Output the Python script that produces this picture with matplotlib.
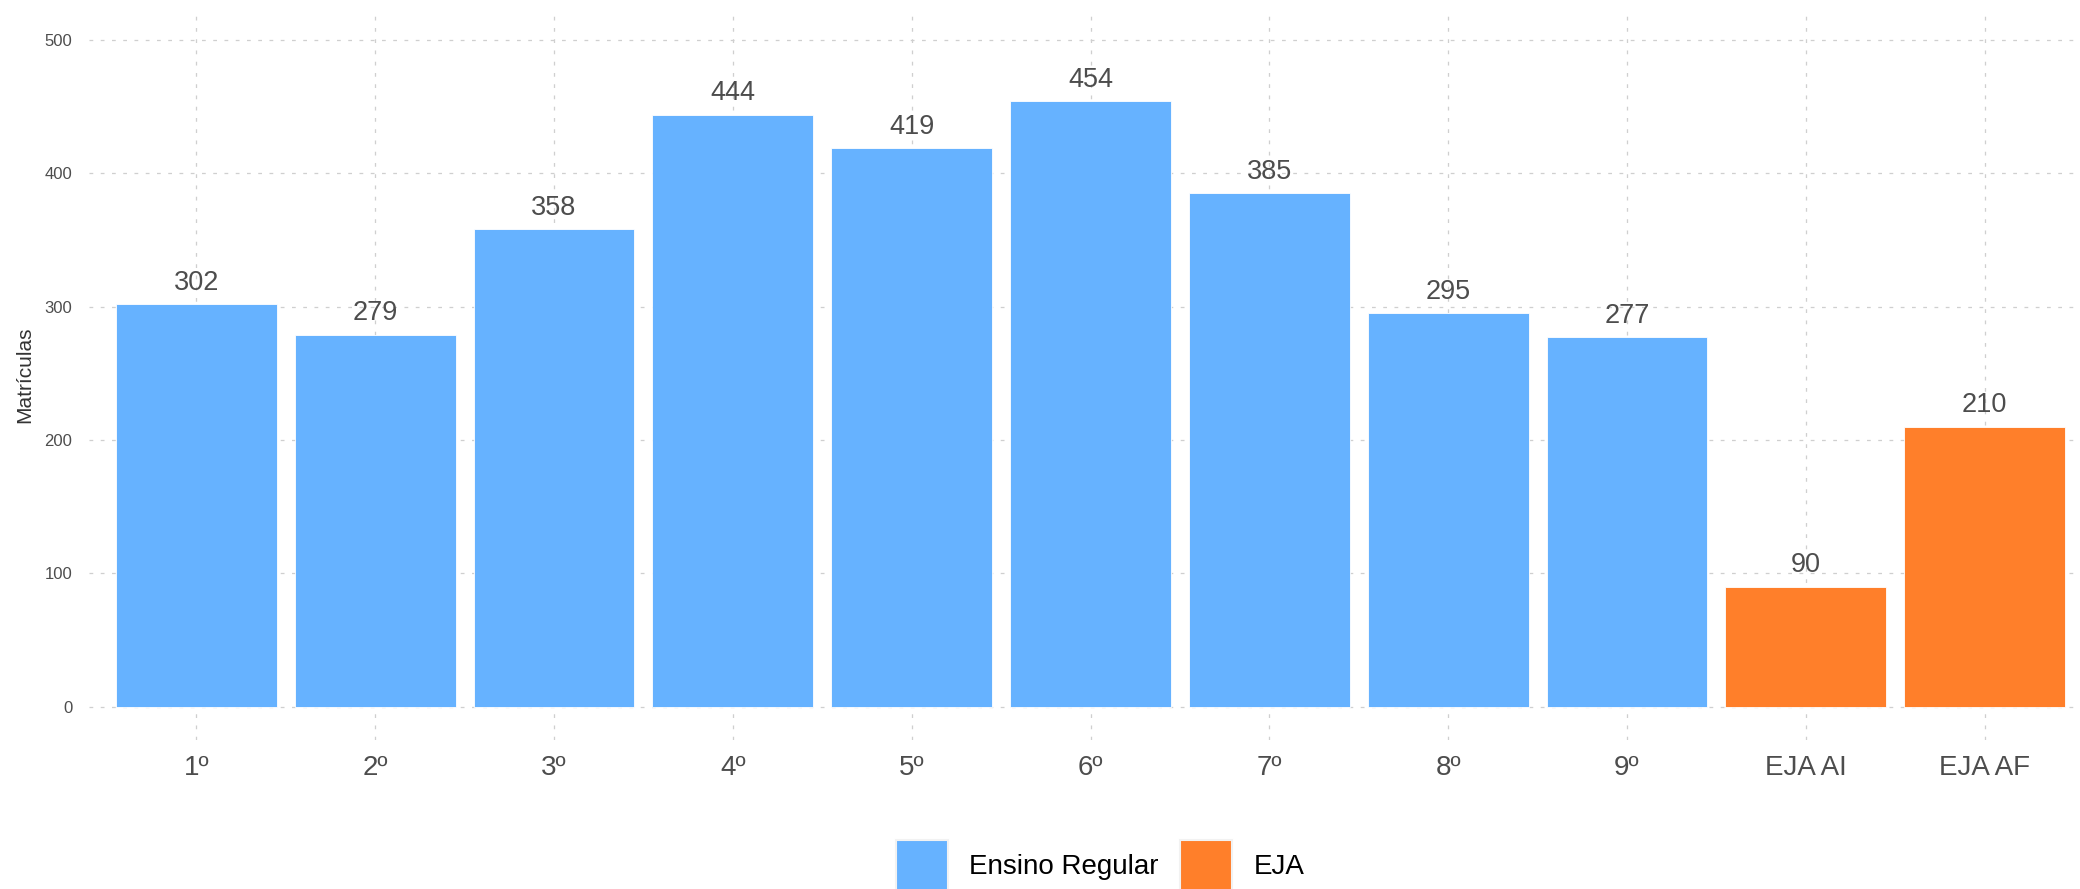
import matplotlib
matplotlib.use("Agg")
import matplotlib.pyplot as plt
from matplotlib.patches import Patch

categories = ["1º", "2º", "3º", "4º", "5º", "6º", "7º", "8º", "9º", "EJA AI", "EJA AF"]
values = [302, 279, 358, 444, 419, 454, 385, 295, 277, 90, 210]
groups = ["Ensino Regular"] * 9 + ["EJA", "EJA"]
group_colors = {"Ensino Regular": "#66B2FF", "EJA": "#FF7F2A"}
y_ticks = [0, 100, 200, 300, 400, 500]

plt.rcParams['font.family'] = ['Liberation Sans', 'DejaVu Sans']

W, H = 2080, 889
fig = plt.figure(figsize=(W / 100, H / 100), dpi=100)
left_px, right_px, top_px, bot_px = 89, 2092, 10, 740
aw = right_px - left_px
ax = fig.add_axes([left_px / W, 1 - bot_px / H, aw / W, (bot_px - top_px) / H])

x = list(range(len(categories)))
cols = [group_colors[g] for g in groups]
ax.bar(x, values, width=0.9, color=cols, edgecolor="white", linewidth=0.6, zorder=2)

for xi, v in zip(x, values):
    ax.annotate(str(v), (xi, v), xytext=(0, 6), textcoords="offset points",
                ha="center", va="bottom", fontsize=19.5, color="#4d4d4d", zorder=3)

ax.set_xlim(-0.6, len(categories) - 0.4)
ax.set_ylim(-25, 522.5)
ax.set_xticks(x)
ax.set_xticklabels(categories, fontsize=20, color="#4d4d4d")
ax.set_yticks(y_ticks)
ax.set_yticklabels([str(t) for t in y_ticks], fontsize=12, color="#4d4d4d")
ax.tick_params(axis="both", length=0)
ax.tick_params(axis="x", pad=11)
ax.tick_params(axis="y", pad=12)
for s in ax.spines.values():
    s.set_visible(False)
ax.grid(True, color="#cfcfcf", linewidth=0.9, linestyle=(0, (3, 6)), zorder=0)
ax.set_axisbelow(True)
ax.set_ylabel("Matrículas", fontsize=15, color="#333333", va="center")
ax.yaxis.set_label_coords((25 - left_px) / aw, 0.5)

handles = [Patch(facecolor=group_colors[g], edgecolor="#f2f2f2", linewidth=1.5) for g in ["Ensino Regular", "EJA"]]
fig.legend(handles, ["Ensino Regular", "EJA"], loc="center", bbox_to_anchor=(1100 / W, 1 - 866 / H),
           ncol=2, frameon=False, fontsize=20,
           handlelength=1.87, handleheight=2.5,
           handletextpad=0.76, columnspacing=0.79)

fig.savefig("out.png", dpi=100, facecolor="white")
